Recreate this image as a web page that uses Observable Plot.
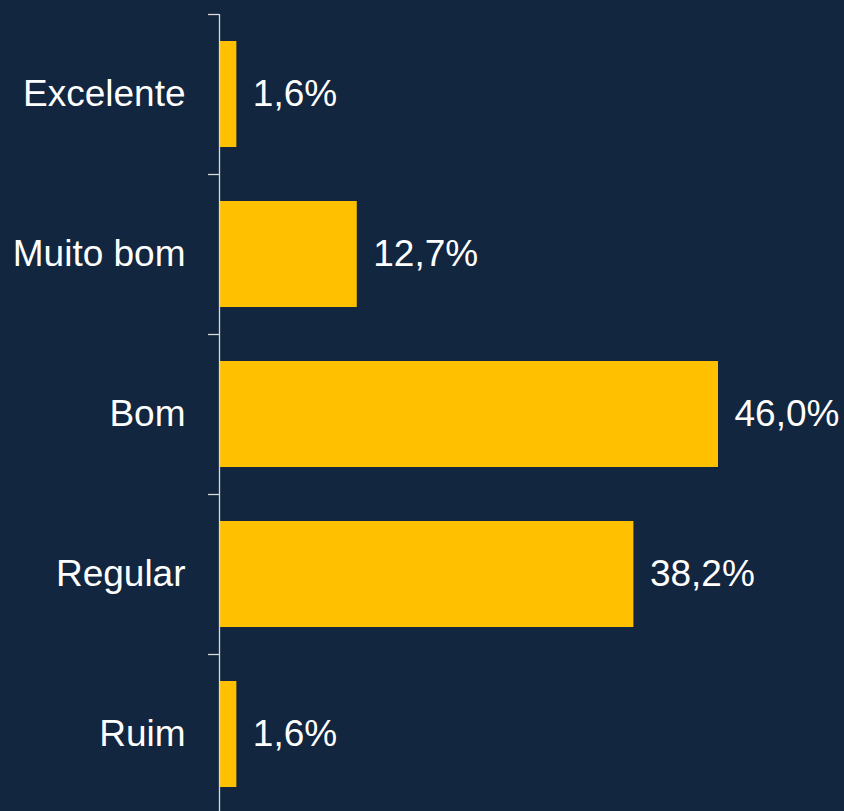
<!DOCTYPE html>
<html>
<head>
<meta charset="utf-8">
<script src="https://cdn.jsdelivr.net/npm/d3@7"></script>
<script src="https://cdn.jsdelivr.net/npm/@observablehq/plot@0.6"></script>
<style>
  html, body { margin: 0; padding: 0; background: #12263F; overflow: hidden; }
  #chart svg { display: block; }
</style>
</head>
<body>
<div id="chart"></div>
<script>
const categories = ["Excelente", "Muito bom", "Bom", "Regular", "Ruim"];
const values = [1.6, 12.7, 46.0, 38.2, 1.6];

const data = categories.map((c, i) => ({category: c, value: values[i]}));

const width = 844, height = 814, marginTop = 14, marginBottom = 0;
const step = (height - marginTop - marginBottom) / categories.length;
const fmt = v => v.toFixed(1).replace(".", ",") + "%";

const chart = Plot.plot({
  width, height,
  marginTop, marginBottom,
  marginLeft: 219,
  marginRight: 126,
  style: {background: "#12263F", color: "#ffffff", fontFamily: "'Liberation Sans', Arial, sans-serif", fontSize: "37px"},
  x: {domain: [0, 46], axis: null},
  y: {domain: categories, paddingInner: 0.3375, paddingOuter: 0.16875, label: null},
  marks: [
    Plot.barX(data, {x: "value", y: "category", fill: "#FFC000"}),
    Plot.axisY({tickSize: 0, tickPadding: 34, fontSize: 37, fill: "#ffffff", label: null}),
    Plot.axisY({text: null, tickSize: 11, dy: -step / 2, stroke: "#d9d9d9", strokeWidth: 1.3}),
    Plot.ruleX([0], {stroke: "#d9d9d9", strokeWidth: 1.3}),
    Plot.text(data, {x: "value", y: "category", text: d => fmt(d.value), dx: 16, textAnchor: "start", fill: "#ffffff", fontSize: 37})
  ]
});
document.getElementById("chart").appendChild(chart);
</script>
</body>
</html>
